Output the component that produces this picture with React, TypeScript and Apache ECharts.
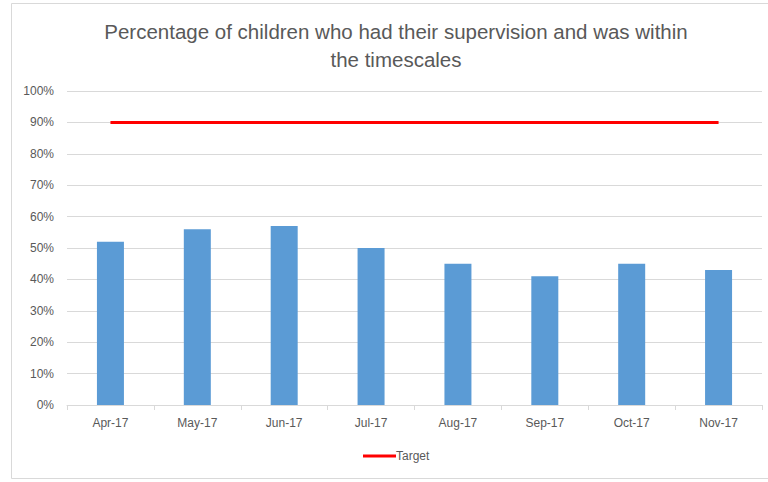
import React, { useEffect, useRef } from "react";
import * as echarts from "echarts";

const categories = ["Apr-17", "May-17", "Jun-17", "Jul-17", "Aug-17", "Sep-17", "Oct-17", "Nov-17"];
const percentValues = [52, 56, 57, 50, 45, 41, 45, 43];
const targetValues = [90, 90, 90, 90, 90, 90, 90, 90];
const titleText = "Percentage of children who had their supervision and was within\nthe timescales";

export default function App() {
  const ref = useRef<HTMLDivElement>(null);
  useEffect(() => {
    if (!ref.current) return;
    const chart = echarts.init(ref.current, null, { renderer: "svg" });
    const font = "Liberation Sans";
    chart.setOption({
      animation: false,
      backgroundColor: "#ffffff",
      textStyle: { fontFamily: font },
      title: {
        text: titleText,
        left: 391,
        textAlign: "center",
        top: 12,
        textStyle: { fontFamily: font, fontSize: 20.5, fontWeight: "normal", color: "#595959", lineHeight: 28 },
      },
      graphic: [
        {
          type: "rect",
          shape: { x: 11.5, y: 3.5, width: 800, height: 475 },
          style: { fill: "none", stroke: "#d9d9d9", lineWidth: 1 },
          silent: true,
        },
      ],
      legend: {
        data: ["Target"],
        left: 358,
        top: 445,
        icon: "rect",
        itemWidth: 33,
        itemHeight: 3,
        textStyle: { fontFamily: font, fontSize: 12, color: "#595959", padding: [0, 0, 0, -5] },
      },
      grid: { left: 67, right: 6, top: 91, bottom: 77, containLabel: false },
      xAxis: {
        type: "category",
        data: categories,
        axisLine: { lineStyle: { color: "#d9d9d9" } },
        axisTick: { show: true, length: 5, lineStyle: { color: "#d9d9d9" } },
        axisLabel: { color: "#595959", fontSize: 12, margin: 12, fontFamily: font },
      },
      yAxis: {
        type: "value",
        min: 0,
        max: 100,
        interval: 10,
        axisLine: { show: false },
        axisTick: { show: false },
        splitLine: { lineStyle: { color: "#d9d9d9" } },
        axisLabel: { color: "#595959", fontSize: 12, margin: 13, formatter: "{value}%", fontFamily: font },
      },
      series: [
        {
          name: "Percentage",
          type: "bar",
          data: percentValues,
          barWidth: 27,
          itemStyle: { color: "#5b9bd5" },
        },
        {
          name: "Target",
          type: "line",
          data: targetValues,
          symbol: "none",
          lineStyle: { color: "#ff0000", width: 3 },
          itemStyle: { color: "#ff0000" },
        },
      ],
    });
    return () => chart.dispose();
  }, []);
  return <div ref={ref} style={{ position: "fixed", left: 0, top: 0, width: 768, height: 482 }} />;
}
